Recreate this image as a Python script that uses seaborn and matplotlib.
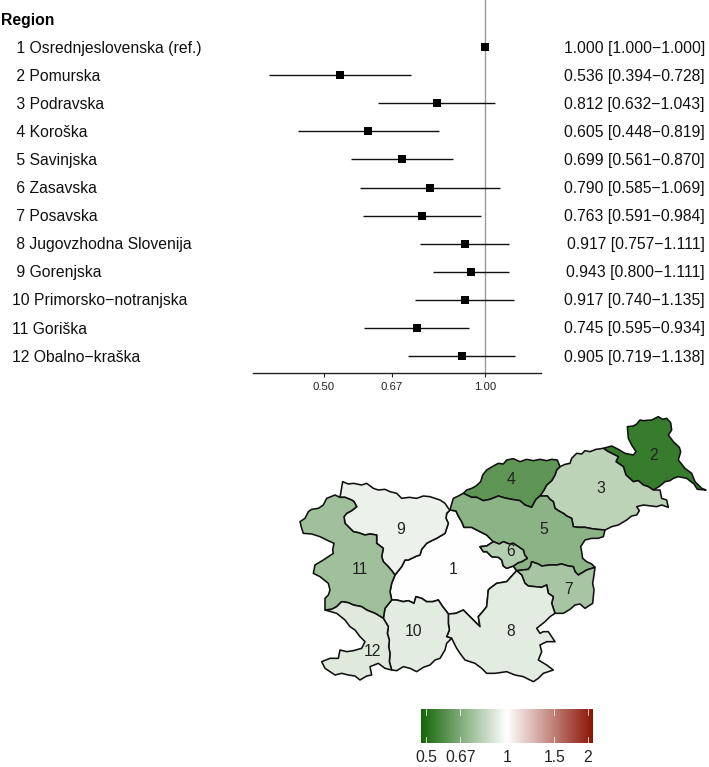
import numpy as np
import pandas as pd
import matplotlib
matplotlib.use("Agg")
import matplotlib.pyplot as plt
from matplotlib.colors import LinearSegmentedColormap, LogNorm
from matplotlib.cm import ScalarMappable
import seaborn as sns

regions = ["Osrednjeslovenska (ref.)", "Pomurska", "Podravska", "Koroška", "Savinjska", "Zasavska",
           "Posavska", "Jugovzhodna Slovenija", "Gorenjska", "Primorsko\u2212notranjska", "Goriška", "Obalno\u2212kraška"]
hr = [1.000, 0.536, 0.812, 0.605, 0.699, 0.790, 0.763, 0.917, 0.943, 0.917, 0.745, 0.905]
ci_low = [1.000, 0.394, 0.632, 0.448, 0.561, 0.585, 0.591, 0.757, 0.800, 0.740, 0.595, 0.719]
ci_high = [1.000, 0.728, 1.043, 0.819, 0.870, 1.069, 0.984, 1.111, 1.111, 1.135, 0.934, 1.138]
axis_ticks = [0.5, 0.67, 1.0]
cbar_ticks = [0.5, 0.67, 1, 1.5, 2]
cbar_labels = ["0.5", "0.67", "1", "1.5", "2"]

# shared borders of the map (map units)
b_1_5 = [(480,300),(498,303),(505,318),(515,335),(522,352),(545,352),(570,365),(590,375),(600,385),(610,395)]
b_5_6 = [(610,395),(628,402),(640,395),(658,402),(670,400),(688,412),(700,420),(704,435),(712,445),(695,455),(685,458),(670,468)]
b_1_6 = [(610,395),(590,408),(570,410),(580,425),(590,425),(605,440),(625,442),(635,450),(640,468),(650,475),(670,468)]
b_6_1b = [(670,468),(680,482)]
b_5_7 = [(680,482),(698,480),(715,478),(722,468),(725,455),(745,462),(755,468),(780,465),(800,465),(815,462),(835,468),(850,470),(855,485),(865,495),(890,480),(915,472)]
b_5_e = [(915,472),(905,462),(890,455),(878,445),(875,425),(872,410),(885,390),(905,385),(925,385),(940,380),(945,360)]
b_3_5 = [(945,360),(920,358),(905,356),(885,352),(865,352),(850,350),(845,325),(830,318),(820,310),(805,302),(795,295),(790,275),(780,268),(772,258),(750,258)]
b_4_5 = [(750,258),(738,268),(725,292),(705,285),(690,272),(665,268),(645,264),(625,258),(600,268),(580,272),(560,262),(545,262),(520,250)]
b_5_n = [(520,250),(505,258),(490,265),(484,285),(480,300)]
b_3_4 = [(750,258),(762,240),(770,225),(785,212),(795,195),(800,180),(810,170)]
b_4_n = [(810,170),(802,150),(785,148),(770,152),(750,148),(730,152),(710,148),(690,155),(670,146),(650,150),(640,162),(625,160),(610,168),(590,180),(578,195),(572,215),(558,228),(545,235),(530,240),(520,250)]
b_3_n = [(810,170),(825,163),(840,160),(845,145),(860,130),(875,132),(885,122),(900,125),(918,118),(940,115)]
b_2_3 = [(940,115),(955,125),(965,130),(985,140),(978,155),(1000,170),(1008,195),(1030,215),(1045,212),(1060,225),(1075,230),(1090,240)]
b_2_o = [(940,115),(965,108),(985,118),(1005,130),(1030,135),(1038,125),(1025,105),(1015,85),(1012,50),(1030,48),(1040,42),(1050,30),(1060,32),
         (1085,30),(1105,20),(1118,28),(1130,25),(1142,38),(1145,60),(1135,75),(1150,95),(1168,112),(1172,125),(1165,150),(1185,175),(1205,190),
         (1215,215),(1235,235),(1248,240),(1222,238),(1212,222),(1190,205),(1165,200),(1150,205),(1140,212),(1125,215),(1110,228),(1090,240)]
b_3_s = [(1090,240),(1110,240),(1115,265),(1130,270),(1135,292),(1115,285),(1100,290),(1060,285),(1040,290),(1048,302),(1040,315),(1025,318),(1010,330),(985,345),(965,350),(945,360)]
b_7_o = [(915,472),(912,495),(908,520),(912,540),(908,580),(885,595),(870,582),(855,585),(840,598),(820,610),(795,610)]
b_7_8 = [(795,610),(785,580),(790,560),(775,550),(770,525),(755,532),(735,530),(715,528),(705,520),(695,495),(680,482)]
b_1_8 = [(680,482),(668,495),(650,515),(620,520),(600,535),(595,540),(590,590),(578,605),(565,620),(570,650),(545,625),(520,600),(498,610),(475,612)]
b_8_o = [(795,610),(780,620),(765,635),(740,655),(750,670),(760,665),(775,665),(785,680),(795,695),(770,695),(750,705),(755,725),(745,750),(770,765),(790,780),(760,790),
         (745,805),(730,815),(700,800),(675,795),(650,785),(615,790),(590,790),(575,775),(555,760),(525,750),(510,730),(500,715),(485,685)]
b_8_10 = [(485,685),(470,680),(478,660),(475,640),(475,612)]
b_1_10 = [(475,612),(470,605),(458,590),(445,570),(428,575),(410,575),(395,565),(378,560),(372,580),(355,572),(340,575),(320,570),(305,570)]
b_10_o = [(485,685),(470,700),(465,720),(450,745),(435,750),(420,765),(400,772),(380,785),(360,775),(340,770),(320,782),(305,780)]
b_10_12 = [(305,780),(298,755),(300,730),(296,710),(298,690),(292,670),(295,650),(280,625)]
b_10_11 = [(280,625),(285,595),(305,570)]
b_1_11 = [(305,570),(300,545),(305,520),(315,495)]
b_1_9 = [(315,495),(335,470),(345,450),(355,450),(380,438),(390,435),(395,418),(410,400),(425,392),(440,385),(465,370),(475,340),(468,325),(470,310),(480,300)]
b_9_11 = [(315,495),(305,482),(295,470),(280,455),(275,440),(280,415),(260,400),(260,375),(240,372),(225,375),(205,368),(190,365),(175,350),(165,340),(162,320),(170,310),(185,302),(200,290),(192,275),(185,270),(165,262),(150,262)]
b_9_o = [(150,262),(158,215),(175,222),(190,220),(215,225),(230,220),(250,235),(265,240),(285,238),(300,245),(320,250),(335,265),(358,262),(380,265),(400,258),(420,260),(435,265),(450,270),(465,280),(475,295),(480,300)]
b_11_o = [(150,262),(135,255),(110,265),(100,285),(85,295),(65,298),(55,305),(45,325),(30,335),(35,355),(40,370),(65,372),(90,380),(110,390),(132,400),(128,420),(130,430),(100,450),(75,465),(70,490),(90,500),(115,520),(120,540),(115,555),(105,565),(105,600)]
b_11_12 = [(105,600),(125,598),(140,590),(155,575),(175,578),(190,585),(215,590),(230,600),(255,610),(280,625)]
b_12_o = [(105,600),(140,610),(165,630),(180,650),(195,660),(210,680),(225,695),(215,715),(190,722),(170,725),(150,720),(145,745),(120,745),(95,755),(105,775),(135,795),(155,790),(175,795),(195,798),(210,810),(230,798),(245,795),(240,770),(265,760),(285,775),(305,780)]

def ring(*chains):
    pts = []
    for c in chains:
        pts += list(c)
    return pts

def r(c):
    return c[::-1]

shapes = [
    ring(b_1_5, b_1_6, b_6_1b, b_1_8, b_1_10, b_1_11, b_1_9),
    ring(b_2_o, r(b_2_3)),
    ring(b_3_n, b_2_3, b_3_s, b_3_5, b_3_4),
    ring(b_4_n, r(b_4_5), b_3_4),
    ring(b_1_5, b_5_6, b_6_1b, b_5_7, b_5_e, b_3_5, b_4_5, b_5_n),
    ring(b_5_6, r(b_1_6)),
    ring(b_5_7, b_7_o, b_7_8),
    ring(r(b_7_8), b_8_o, b_8_10, r(b_1_8)),
    ring(b_9_o, r(b_1_9), b_9_11),
    ring(b_1_10, r(b_10_11), r(b_10_12), r(b_10_o), b_8_10),
    ring(b_11_o, b_11_12, b_10_11, b_1_11, b_9_11),
    ring(b_12_o, b_10_12, r(b_11_12)),
]
label_pos = [(490,480),(1092,137),(932,235),(663,210),(762,357),(663,425),(835,540),(663,663),(332,357),(372,663),(210,480),(248,725)]

W, H = 709, 767
row0, row_h = 47.3, 28.05
sns.set_theme(style="white")
plt.rcParams["font.family"] = ["Liberation Sans", "DejaVu Sans"]
fig = plt.figure(figsize=(W/100, H/100), dpi=100)

def axpx(x0, y0, x1, y1):
    return fig.add_axes([x0/W, 1-y1/H, (x1-x0)/W, (y1-y0)/H])

# forest plot
ax = axpx(253, 0, 541, 373.3)
df = pd.DataFrame({"row": np.arange(12), "hr": hr, "lo": ci_low, "hi": ci_high})
ax.set_xscale("log", base=2)
ax.axvline(1, color="#9a9a9a", lw=1.0, zorder=1)
ax.hlines(df["row"], df["lo"], df["hi"], color="#111111", lw=1.0, zorder=2)
sns.scatterplot(data=df, x="hr", y="row", marker="s", color="black", s=36, linewidth=0, ax=ax, zorder=3, legend=False)
ax.set_xlim(2**(-232/161), 2**(56/161))
ax.set_ylim((373.3-row0)/row_h, -row0/row_h)
ax.set_xlabel(""); ax.set_ylabel("")
ax.set_yticks([])
ax.set_xticks(axis_ticks)
ax.set_xticklabels(["%.2f" % t for t in axis_ticks], fontsize=8.2, color="#222222")
ax.xaxis.set_minor_locator(matplotlib.ticker.NullLocator())
ax.tick_params(axis="x", length=3, width=0.8, color="#222222", pad=3, bottom=True)
for s in ["top", "left", "right"]:
    ax.spines[s].set_visible(False)
ax.spines["bottom"].set_color("#222222")
ax.spines["bottom"].set_linewidth(1.0)
ax.patch.set_alpha(0)

fs = 11.3
fig.text(1/W, 1-25/H, "Region", fontsize=fs, fontweight="bold", va="baseline", color="black")
for i, name in enumerate(regions):
    y = 1-(53+row_h*i)/H
    fig.text(12/W, y, "%2d %s" % (i+1, name), fontsize=fs, va="baseline", color="#111111")
    fig.text(705/W, y, "%.3f [%.3f\u2212%.3f]" % (hr[i], ci_low[i], ci_high[i]), fontsize=fs, va="baseline", ha="right", color="#111111")

# colour scale
cmap = LinearSegmentedColormap.from_list("gwr", ["#146408", "#ffffff", "#8a1405"])
lim = 2**1.062
norm = LogNorm(1/lim, lim)

# map
mp = axpx(290, 410, 290+1257/3, 410+855/3)
for i, poly in enumerate(shapes):
    xs, ys = zip(*poly)
    mp.fill(xs, ys, facecolor=cmap(norm(hr[i])), edgecolor="#111111", lw=1.15, joinstyle="round")
for i, pos in enumerate(label_pos):
    mp.text(pos[0], pos[1], str(i+1), fontsize=fs, ha="center", va="center", color="#222222")
mp.set_xlim(0, 1257); mp.set_ylim(855, 0)
mp.axis("off")

# colour bar
cax = axpx(421, 709, 593, 743)
cb = fig.colorbar(ScalarMappable(norm=norm, cmap=cmap), cax=cax, orientation="horizontal")
cb.outline.set_visible(False)
cb.set_ticks(cbar_ticks)
cb.set_ticklabels(cbar_labels)
cb.ax.xaxis.set_minor_locator(matplotlib.ticker.NullLocator())
cb.ax.tick_params(axis="x", length=0, labelsize=fs, pad=5, labelcolor="#222222")
t = cax.get_xaxis_transform()
for v in cbar_ticks:
    cax.plot([v, v], [0, 0.17], color="white", lw=0.7, transform=t, alpha=0.8)
    cax.plot([v, v], [0.83, 1], color="white", lw=0.7, transform=t, alpha=0.8)

fig.savefig("out.png", dpi=100)
